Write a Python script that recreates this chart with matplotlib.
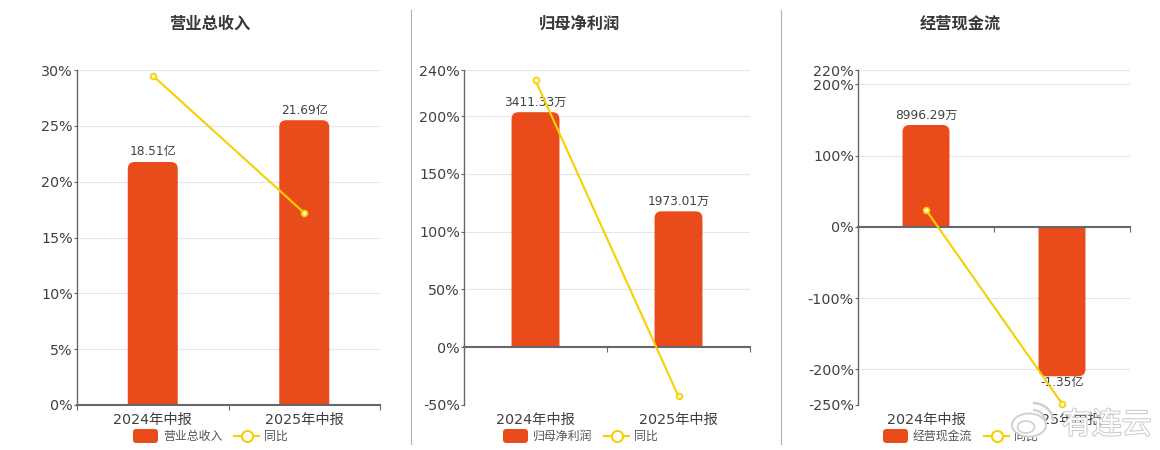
import matplotlib
matplotlib.use('Agg')
import matplotlib.pyplot as plt
import matplotlib.patheffects as pe
from matplotlib.patches import PathPatch, FancyBboxPatch, Ellipse, Arc
from matplotlib.path import Path
from matplotlib.lines import Line2D

plt.rcParams['font.family'] = ['DejaVu Sans', 'Noto Sans CJK SC']

W, H = 1160, 450

periods = ['2024年中报', '2025年中报']

# bar values in 万, yoy values in %
revenue = [185100, 216900]
revenue_yoy = [29.5, 17.2]
revenue_labels = ['18.51亿', '21.69亿']
revenue_ticks = [0, 5, 10, 15, 20, 25, 30]

profit = [3411.33, 1973.01]
profit_yoy = [231, -42.5]
profit_labels = ['3411.33万', '1973.01万']
profit_ticks = [-50, 0, 50, 100, 150, 200, 240]

cash = [8996.29, -13200]
cash_yoy = [23.8, -248]
cash_labels = ['8996.29万', '-1.35亿']
cash_ticks = [-250, -200, -100, 0, 100, 200, 220]

ORANGE = '#e94c1a'
YELLOW = '#f6d000'
GRID = '#e4e6ee'
AXIS = '#66666e'
TEXT = '#404040'

fig = plt.figure(figsize=(W / 100, H / 100), dpi=100)


def px_axes(x0, x1, y0=70, y1=405):
    ax = fig.add_axes([x0 / W, 1 - y1 / H, (x1 - x0) / W, (y1 - y0) / H])
    ax.set_xlim(-0.5, 1.5)
    ax.patch.set_visible(False)
    for s in ax.spines.values():
        s.set_visible(False)
    return ax


def rounded_bar(ax, x, width, value, r=7):
    # rounded far end only, radius given in pixels
    bbox = ax.get_window_extent()
    xmin, xmax = ax.get_xlim()
    ymin, ymax = ax.get_ylim()
    rx = r * (xmax - xmin) / bbox.width
    ry = r * (ymax - ymin) / bbox.height
    if value < 0:
        ry = -ry
    l, rr = x - width / 2, x + width / 2
    verts = [(l, 0), (l, value - ry), (l, value), (l + rx, value),
             (rr - rx, value), (rr, value), (rr, value - ry), (rr, 0), (l, 0)]
    codes = [Path.MOVETO, Path.LINETO, Path.CURVE3, Path.CURVE3,
             Path.LINETO, Path.CURVE3, Path.CURVE3, Path.LINETO, Path.CLOSEPOLY]
    ax.add_patch(PathPatch(Path(verts, codes), fc=ORANGE, ec='none'))


def panel(x0, x1, title, title_x, ticks, values, yoy, labels, bar_scale, bar_width):
    ylim = (ticks[0], ticks[-1])
    plot_h = 335

    # grid and tick labels
    ax = px_axes(x0, x1)
    ax.set_ylim(*ylim)
    ax.set_yticks(ticks)
    ax.set_yticklabels(['%d%%' % t for t in ticks], fontsize=10.3, color=TEXT)
    ax.tick_params(axis='y', length=2, width=0.8, color=AXIS, pad=1)
    ax.set_xticks([0, 1])
    ax.set_xticklabels(periods, fontsize=10.3, color=TEXT)
    ax.tick_params(axis='x', length=0, pad=6)
    ax.grid(axis='y', color=GRID, lw=0.8)
    ax.set_axisbelow(True)

    # bars have their own scale, px per 万
    ax_bar = px_axes(x0, x1)
    per_unit = (ylim[1] - ylim[0]) / plot_h
    zero_px = (0 - ylim[0]) / per_unit
    ax_bar.set_ylim(-zero_px / bar_scale, (plot_h - zero_px) / bar_scale)
    ax_bar.set_xticks([])
    ax_bar.set_yticks([])
    for i, v in enumerate(values):
        rounded_bar(ax_bar, i, bar_width, v)
        if v >= 0:
            ax_bar.annotate(labels[i], (i, v), xytext=(0, 2.5), textcoords='offset points',
                            ha='center', va='bottom', fontsize=8.7, color=TEXT)
        else:
            ax_bar.annotate(labels[i], (i, v), xytext=(0, 0), textcoords='offset points',
                            ha='center', va='top', fontsize=8.7, color=TEXT)

    # axis lines and yoy line on top
    ax_line = px_axes(x0, x1)
    ax_line.set_ylim(*ylim)
    ax_line.set_yticks([])
    ax_line.spines['left'].set_visible(True)
    ax_line.spines['left'].set_color(AXIS)
    ax_line.spines['left'].set_linewidth(1.0)
    ax_line.spines['bottom'].set_visible(True)
    ax_line.spines['bottom'].set_position(('data', 0))
    ax_line.spines['bottom'].set_color(AXIS)
    ax_line.spines['bottom'].set_linewidth(1.5)
    ax_line.set_xticks([-0.5, 0.5, 1.5])
    ax_line.set_xticklabels([])
    ax_line.tick_params(axis='x', length=3.5, width=0.8, color=AXIS)
    ax_line.plot([0, 1], yoy, color=YELLOW, lw=1.5, marker='o', ms=4.2,
                 mfc='#fff8c8', mec=YELLOW, mew=1.2, clip_on=False, zorder=5)

    fig.text(title_x / W, 1 - 24 / H, title, ha='center', va='center',
             fontsize=11.7, fontweight='bold', color='#383838')


panel(77, 380, '营业总收入', 210, revenue_ticks, revenue, revenue_yoy, revenue_labels, 13.13 / 10000, 0.33)
panel(464, 750, '归母净利润', 580, profit_ticks, profit, profit_yoy, profit_labels, 0.0689, 0.335)
panel(858, 1130, '经营现金流', 960, cash_ticks, cash, cash_yoy, cash_labels, 0.01132, 0.345)

# separators
for x in (410.5, 780.5):
    fig.add_artist(Line2D([x / W, x / W], [1 - 444 / H, 1 - 10 / H], color='#b0b0ac', lw=0.8))


def legend(x, name, name_w):
    fig.add_artist(FancyBboxPatch((x / W, 1 - 443 / H), 25 / W, 14 / H,
                                  boxstyle='round,pad=0,rounding_size=0.003',
                                  mutation_aspect=W / H, fc=ORANGE, ec='none',
                                  transform=fig.transFigure))
    fig.text((x + 30) / W, 1 - 436.5 / H, name, ha='left', va='center', fontsize=8.6, color='#555555')
    lx = x + 31 + name_w + 11
    fig.add_artist(Line2D([lx / W, (lx + 25) / W], [1 - 436 / H] * 2, color=YELLOW, lw=1.5))
    fig.add_artist(Line2D([(lx + 12.5) / W], [1 - 436 / H], marker='o', ms=8, mfc='white',
                          mec=YELLOW, mew=1.5, ls='none'))
    return lx + 30


for x, name in ((133, '营业总收入'), (503, '归母净利润'), (883, '经营现金流')):
    tx = legend(x, name, 59)
    fig.text(tx / W, 1 - 436.5 / H, '同比', ha='left', va='center', fontsize=8.6, color='#555555')

# watermark
halo = [pe.withStroke(linewidth=1.4, foreground='#c8c8c8')]
fig.text(1062 / W, 1 - 425 / H, '有连云', ha='left', va='center', fontsize=21.5,
         color='white', family=['Noto Sans CJK SC'], path_effects=halo, zorder=20)
fig.add_artist(Ellipse((1029 / W, 1 - 425 / H), 34 / W, 23 / H, fc='white', ec='#d0d0d0', lw=1.4, zorder=20))
fig.add_artist(Ellipse((1026 / W, 1 - 427 / H), 17 / W, 12 / H, fc='white', ec='#d0d0d0', lw=1.2, zorder=20))
fig.add_artist(Arc((1033 / W, 1 - 421 / H), 40 / W, 36 / H, theta1=0, theta2=90, ec='#d0d0d0', lw=1.8, zorder=20))
fig.add_artist(Arc((1033 / W, 1 - 421 / H), 24 / W, 22 / H, theta1=0, theta2=90, ec='#d0d0d0', lw=1.6, zorder=20))

fig.savefig('out.png', dpi=100)
